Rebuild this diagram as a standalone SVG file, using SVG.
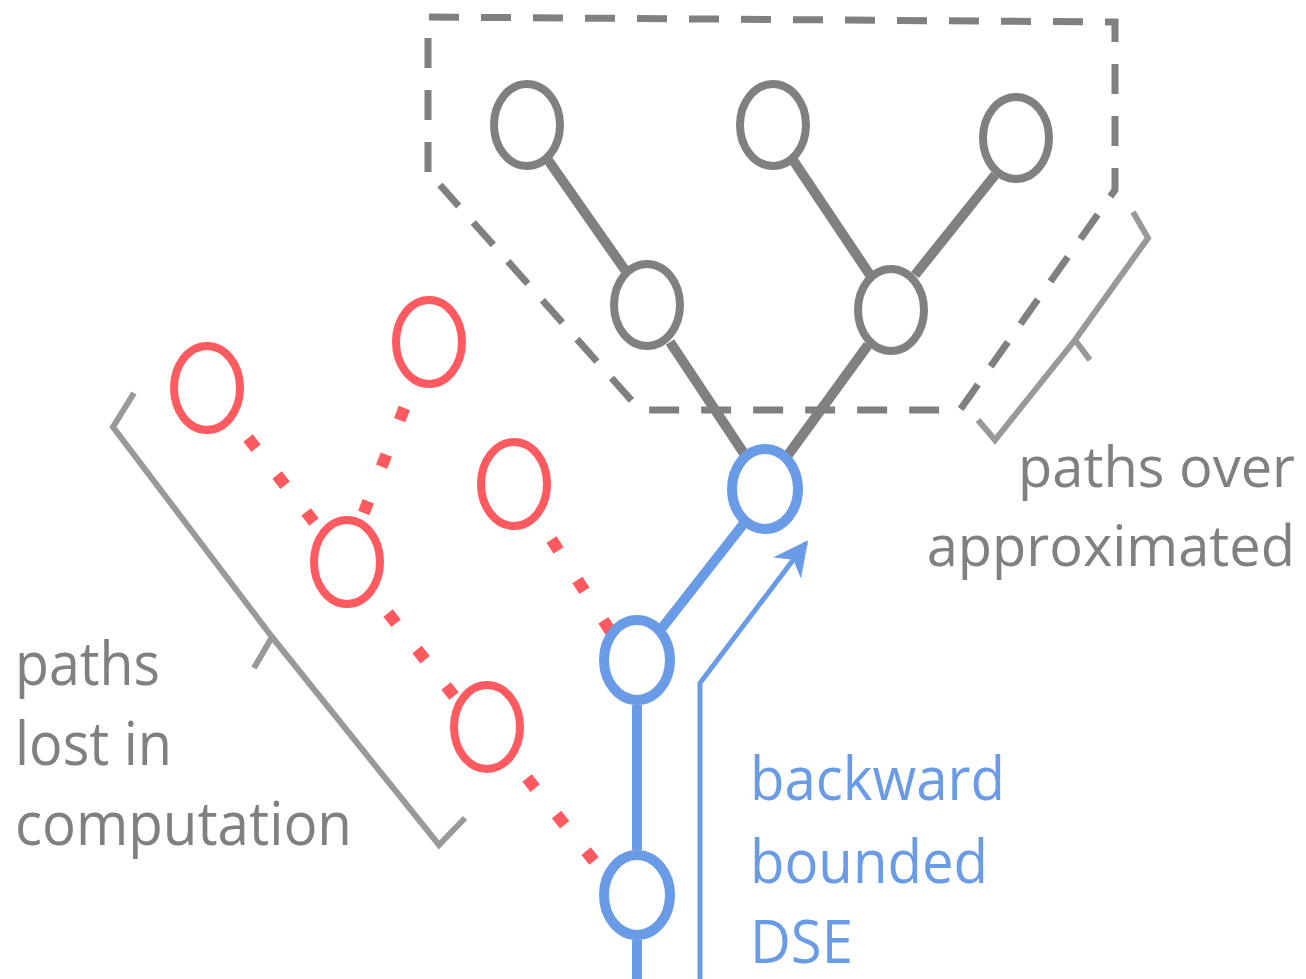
<svg xmlns="http://www.w3.org/2000/svg" width="1306" height="979" viewBox="0 0 1306 979">
<defs>
<style>
.gn{fill:none;stroke:#808080;stroke-width:8}
.bn{fill:none;stroke:#6a9be6;stroke-width:10}
.rn{fill:none;stroke:#ff5a5f;stroke-width:8}
.ge{stroke:#808080;stroke-width:10;fill:none}
.be{stroke:#6a9be6;stroke-width:10;fill:none}
.re{stroke:#ff5a5f;stroke-width:12;fill:none}
.br{stroke:#999;stroke-width:6;fill:none;stroke-linejoin:miter}
.box{stroke:#808080;stroke-width:7;fill:none;stroke-dasharray:30 22}
.t{font-family:"Open Sans","DejaVu Sans",sans-serif;font-size:60px}
</style>
<marker id="ah" viewBox="0 0 10 10" refX="9" refY="5" markerWidth="7" markerHeight="7" orient="auto" markerUnits="strokeWidth">
<path d="M0,0 L10,5 L0,10 L3,5 Z" fill="#6a9be6"/>
</marker>
</defs>
<rect width="1306" height="979" fill="#fff"/>
<path class="box" d="M428,172 L428,17 L1115,22 L1115,190 L960,410 L640,410 L440,185"/>
<g id="connectors">
<line class="ge" x1="548" y1="160" x2="625" y2="270"/>
<line class="ge" x1="793" y1="160" x2="870" y2="275"/>
<line class="ge" x1="995" y1="175" x2="915" y2="275"/>
<line class="ge" x1="670" y1="342" x2="745" y2="455"/>
<line class="ge" x1="868" y1="345" x2="788" y2="455"/>
<line class="be" x1="745" y1="522" x2="662" y2="628"/>
<line class="be" x1="637" y1="705" x2="637" y2="850"/>
<line class="be" x1="637" y1="940" x2="637" y2="979"/>
<line class="re" x1="248" y1="438" x2="314" y2="522" stroke-dasharray="13 34"/>
<line class="re" x1="404.3" y1="408" x2="363.7" y2="513" stroke-dasharray="13 37"/>
<line class="re" x1="388" y1="613" x2="454" y2="696" stroke-dasharray="13 33.6"/>
<line class="re" x1="551.5" y1="539.5" x2="610.5" y2="631.5" stroke-dasharray="13 35"/>
<line class="re" x1="527" y1="778" x2="594" y2="861" stroke-dasharray="13 34"/>
<path d="M700,979 L700,683 L806,543" stroke="#6a9be6" stroke-width="5" fill="none" marker-end="url(#ah)"/>
</g>
<g id="g1"><ellipse class="gn" cx="527" cy="125" rx="33" ry="41"/></g>
<g id="g2"><ellipse class="gn" cx="773" cy="125" rx="33" ry="41"/></g>
<g id="g3"><ellipse class="gn" cx="1016" cy="138" rx="33" ry="41"/></g>
<g id="g4"><ellipse class="gn" cx="647" cy="305" rx="33" ry="41"/></g>
<g id="g5"><ellipse class="gn" cx="891" cy="310" rx="33" ry="41"/></g>
<g id="b1"><ellipse class="bn" cx="765" cy="489" rx="33" ry="40"/></g>
<g id="b2"><ellipse class="bn" cx="637" cy="660" rx="33" ry="40"/></g>
<g id="b3"><ellipse class="bn" cx="637" cy="895" rx="33" ry="40"/></g>
<g id="r1"><ellipse class="rn" cx="207" cy="388" rx="33" ry="42"/></g>
<g id="r2"><ellipse class="rn" cx="429" cy="342" rx="33" ry="42"/></g>
<g id="r3"><ellipse class="rn" cx="347" cy="562" rx="33" ry="42"/></g>
<g id="r4"><ellipse class="rn" cx="514" cy="484" rx="33" ry="42"/></g>
<g id="r5"><ellipse class="rn" cx="487" cy="727" rx="33" ry="42"/></g>
<g id="bracket-lost"><path class="br" d="M134,393 L113,427 L272,637 L254,668 M272,637 L439,845 L465,818"/></g>
<g id="bracket-over"><path class="br" d="M1133,212 L1148,238 L1075,340 L1090,360 M1075,340 L995,440 L978,420"/></g>
<g id="label-over" class="t" fill="#808080" text-anchor="end" style="font-size:56px">
<text x="1295" y="487">paths over</text>
<text x="1295" y="566">approximated</text>
</g>
<g id="label-lost" class="t" fill="#808080">
<text x="15" y="685" textLength="145" lengthAdjust="spacingAndGlyphs">paths</text>
<text x="15" y="765" textLength="157" lengthAdjust="spacingAndGlyphs">lost in</text>
<text x="15" y="845" textLength="337" lengthAdjust="spacingAndGlyphs">computation</text>
</g>
<g id="label-dse" class="t" fill="#6a9be6">
<text x="750" y="800" textLength="255" lengthAdjust="spacingAndGlyphs">backward</text>
<text x="750" y="883" textLength="238" lengthAdjust="spacingAndGlyphs">bounded</text>
<text x="750" y="963" textLength="103" lengthAdjust="spacingAndGlyphs">DSE</text>
</g>
</svg>
